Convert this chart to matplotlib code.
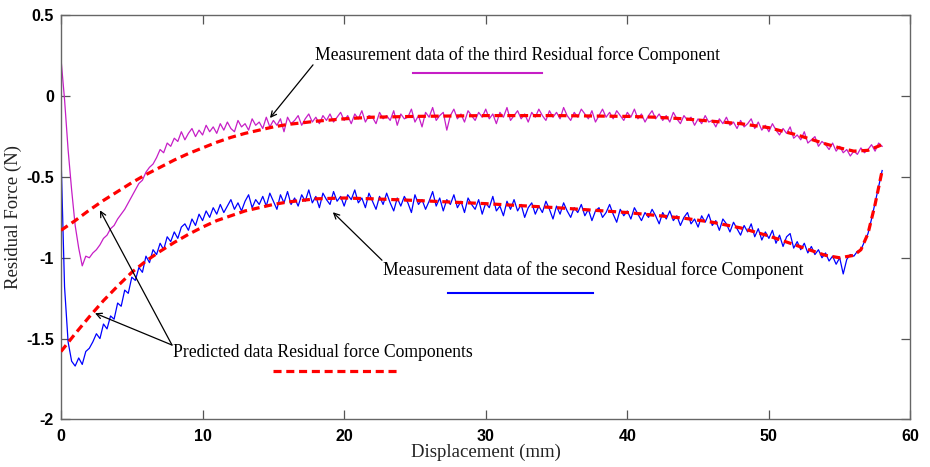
import numpy as np
import matplotlib
matplotlib.use("Agg")
import matplotlib.pyplot as plt
from matplotlib import font_manager

plt.rcParams['axes.unicode_minus'] = False
plt.rcParams['lines.scale_dashes'] = False

# ---------------- data ----------------
disp_start = 0.0
disp_step = 0.25

third_meas = [
    0.23, -0.02, -0.33, -0.58,
    -0.80, -0.94, -1.05, -0.99,
    -1.00, -0.97, -0.95, -0.92,
    -0.88, -0.86, -0.82, -0.80,
    -0.76, -0.73, -0.70, -0.66,
    -0.62, -0.58, -0.54, -0.52,
    -0.47, -0.44, -0.42, -0.38,
    -0.33, -0.35, -0.29, -0.31,
    -0.26, -0.28, -0.22, -0.27,
    -0.23, -0.20, -0.25, -0.21,
    -0.24, -0.18, -0.22, -0.19,
    -0.23, -0.17, -0.21, -0.16,
    -0.20, -0.22, -0.15, -0.19,
    -0.17, -0.21, -0.14, -0.18,
    -0.16, -0.20, -0.13, -0.19,
    -0.15, -0.18, -0.14, -0.22,
    -0.13, -0.17, -0.15, -0.12,
    -0.18, -0.14, -0.11, -0.16,
    -0.13, -0.17, -0.12, -0.15,
    -0.11, -0.16, -0.13, -0.10,
    -0.15, -0.12, -0.17, -0.11,
    -0.14, -0.09, -0.16, -0.12,
    -0.13, -0.17, -0.10, -0.14,
    -0.12, -0.15, -0.09, -0.18,
    -0.11, -0.14, -0.13, -0.08,
    -0.16, -0.12, -0.19, -0.10,
    -0.13, -0.07, -0.15, -0.12,
    -0.10, -0.21, -0.12, -0.08,
    -0.14, -0.11, -0.16, -0.09,
    -0.12, -0.15, -0.10, -0.13,
    -0.08, -0.14, -0.11, -0.17,
    -0.10, -0.13, -0.07, -0.15,
    -0.12, -0.09, -0.14, -0.11,
    -0.16, -0.10, -0.13, -0.08,
    -0.12, -0.15, -0.09, -0.13,
    -0.10, -0.14, -0.07, -0.12,
    -0.15, -0.10, -0.13, -0.08,
    -0.11, -0.14, -0.09, -0.16,
    -0.12, -0.08, -0.13, -0.10,
    -0.14, -0.09, -0.12, -0.15,
    -0.10, -0.13, -0.08, -0.14,
    -0.11, -0.16, -0.12, -0.09,
    -0.14, -0.11, -0.15, -0.12,
    -0.16, -0.10, -0.14, -0.17,
    -0.12, -0.15, -0.13, -0.18,
    -0.14, -0.17, -0.12, -0.16,
    -0.15, -0.19, -0.14, -0.17,
    -0.13, -0.18, -0.16, -0.20,
    -0.15, -0.19, -0.17, -0.14,
    -0.20, -0.16, -0.21, -0.18,
    -0.22, -0.17, -0.21, -0.24,
    -0.20, -0.23, -0.19, -0.26,
    -0.24, -0.27, -0.22, -0.29,
    -0.27, -0.25, -0.31, -0.28,
    -0.30, -0.33, -0.29, -0.34,
    -0.31, -0.35, -0.33, -0.37,
    -0.34, -0.36, -0.32, -0.35,
    -0.33, -0.30, -0.34, -0.29,
    -0.31,
]

second_meas = [
    -0.37, -1.18, -1.52, -1.64,
    -1.67, -1.62, -1.66, -1.58,
    -1.56, -1.52, -1.47, -1.50,
    -1.41, -1.44, -1.36, -1.38,
    -1.28, -1.30, -1.20, -1.22,
    -1.12, -1.14, -1.06, -1.09,
    -0.99, -1.03, -0.95, -0.98,
    -0.91, -0.95, -0.87, -0.90,
    -0.84, -0.88, -0.81, -0.79,
    -0.83, -0.76, -0.80, -0.73,
    -0.77, -0.71, -0.75, -0.69,
    -0.73, -0.67, -0.72, -0.68,
    -0.64, -0.70, -0.66, -0.71,
    -0.65, -0.61, -0.69, -0.64,
    -0.67, -0.62, -0.68, -0.60,
    -0.65, -0.70, -0.61, -0.66,
    -0.59, -0.67, -0.63, -0.68,
    -0.61, -0.65, -0.58, -0.66,
    -0.62, -0.69, -0.60, -0.64,
    -0.67, -0.59, -0.65, -0.62,
    -0.68, -0.61, -0.64, -0.58,
    -0.66, -0.63, -0.69, -0.60,
    -0.65, -0.70, -0.62, -0.67,
    -0.60, -0.66, -0.71, -0.63,
    -0.68, -0.62, -0.66, -0.72,
    -0.61, -0.67, -0.64, -0.70,
    -0.65, -0.59, -0.68, -0.63,
    -0.71, -0.64, -0.67, -0.61,
    -0.69, -0.65, -0.72, -0.63,
    -0.67, -0.70, -0.64, -0.73,
    -0.66, -0.69, -0.62, -0.71,
    -0.68, -0.74, -0.65, -0.70,
    -0.64, -0.71, -0.67, -0.75,
    -0.69, -0.66, -0.73, -0.68,
    -0.72, -0.65, -0.70, -0.76,
    -0.68, -0.73, -0.66, -0.71,
    -0.75, -0.69, -0.72, -0.67,
    -0.74, -0.70, -0.77, -0.71,
    -0.69, -0.75, -0.72, -0.67,
    -0.73, -0.78, -0.70, -0.74,
    -0.71, -0.76, -0.69, -0.73,
    -0.77, -0.72, -0.75, -0.70,
    -0.74, -0.79, -0.72, -0.76,
    -0.71, -0.77, -0.74, -0.80,
    -0.75, -0.72, -0.79, -0.76,
    -0.81, -0.74, -0.78, -0.73,
    -0.80, -0.77, -0.83, -0.76,
    -0.79, -0.84, -0.78, -0.82,
    -0.86, -0.80, -0.84, -0.79,
    -0.87, -0.82, -0.89, -0.84,
    -0.88, -0.83, -0.91, -0.86,
    -0.93, -0.87, -0.85, -0.94,
    -0.90, -0.95, -0.91, -0.97,
    -0.93, -0.98, -0.95, -1.00,
    -0.97, -1.02, -0.99, -1.04,
    -1.00, -1.10, -1.01, -0.98,
    -0.99, -0.96, -0.95, -0.90,
    -0.85, -0.76, -0.66, -0.56,
    -0.46,
]

third_pred_x = [0, 1, 2, 3, 4, 5, 6, 7, 8, 9, 10, 11, 12, 13, 14, 15, 16, 18, 20, 22,
                25, 30, 35, 40, 42, 44, 46, 48, 50, 52, 54, 55, 56, 57, 58]
third_pred_y = [-0.83, -0.77, -0.705, -0.645, -0.59, -0.535, -0.485, -0.44, -0.395, -0.355,
                -0.32, -0.285, -0.255, -0.23, -0.21, -0.19, -0.175, -0.155, -0.14, -0.13,
                -0.125, -0.12, -0.12, -0.125, -0.13, -0.14, -0.155, -0.17, -0.195, -0.24,
                -0.295, -0.32, -0.34, -0.335, -0.30]

second_pred_x = [0, 1, 2, 3, 4, 5, 6, 7, 8, 9, 10, 11, 12, 13, 14, 15, 16, 18, 20, 22,
                 25, 30, 35, 40, 44, 46, 48, 50, 52, 53, 54, 55, 56, 56.5, 57, 57.5, 58]
second_pred_y = [-1.58, -1.47, -1.365, -1.265, -1.175, -1.09, -1.02, -0.96, -0.905, -0.855,
                 -0.81, -0.77, -0.74, -0.71, -0.69, -0.67, -0.655, -0.635, -0.63, -0.635,
                 -0.645, -0.665, -0.69, -0.72, -0.755, -0.78, -0.815, -0.865, -0.925, -0.955,
                 -0.985, -1.0, -0.985, -0.95, -0.85, -0.67, -0.46]

x_ticks = [0, 10, 20, 30, 40, 50, 60]
y_ticks = [-2, -1.5, -1, -0.5, 0, 0.5]
y_tick_labels = ['-2', '-1.5', '-1', '-0.5', '0', '0.5']

label_third = 'Measurement data of the third Residual force Component'
label_second = 'Measurement data of the second Residual force Component'
label_pred = 'Predicted data Residual force Components'

# ---------------- figure ----------------
fig = plt.figure(figsize=(9.3, 4.67), dpi=100)
ax = fig.add_axes([0.0656, 0.102, 0.9134, 0.865])

disp3 = disp_start + disp_step * np.arange(len(third_meas))
disp2 = disp_start + disp_step * np.arange(len(second_meas))

MAG = '#c61ec6'
BLU = '#0000ff'
RED = '#ff0000'
DASH = (0, (5.8, 3.4))

ax.plot(disp3, third_meas, color=MAG, lw=0.9, zorder=2)
ax.plot(disp2, second_meas, color=BLU, lw=0.9, zorder=2)
ax.plot(third_pred_x, third_pred_y, color=RED, lw=2.3, linestyle=DASH, zorder=3)
ax.plot(second_pred_x, second_pred_y, color=RED, lw=2.3, linestyle=DASH, zorder=3)

ax.set_xlim(0, 60)
ax.set_ylim(-2, 0.5)
ax.set_xticks(x_ticks)
ax.set_xticklabels([str(t) for t in x_ticks])
ax.set_yticks(y_ticks)
ax.set_yticklabels(y_tick_labels)

installed = {f.name for f in font_manager.fontManager.ttflist}
if 'Liberation Sans Narrow' in installed:
    tick_family, tick_size = 'Liberation Sans Narrow', 13
else:
    tick_family, tick_size = 'Liberation Sans', 11.5

for lab in ax.get_xticklabels() + ax.get_yticklabels():
    lab.set_fontfamily(tick_family)
    lab.set_fontweight('bold')
    lab.set_fontsize(tick_size)

ax.tick_params(axis='x', direction='in', length=6.5, width=0.9, color='#555555',
               top=True, pad=7)
ax.tick_params(axis='y', direction='in', length=6.5, width=0.9, color='#555555',
               right=True, pad=5)
for s in ax.spines.values():
    s.set_color('#666666')
    s.set_linewidth(1.0)

serif = 'Liberation Serif'
ax.set_xlabel('Displacement (mm)', fontfamily=serif, fontsize=13.5, color='#222222', labelpad=0)
ax.set_ylabel('Residual Force (N)', fontfamily=serif, fontsize=13.5, color='#222222', labelpad=3)

arrow = dict(arrowstyle='->', color='black', lw=0.9, shrinkA=0, shrinkB=0, mutation_scale=10)

# third component annotation
ax.text(17.94, 0.255, label_third, fontfamily=serif, fontsize=12.7, ha='left', va='center')
ax.annotate('', xy=(14.76, -0.135), xytext=(17.8, 0.194), arrowprops=arrow)
ax.plot([24.86, 33.97], [0.144, 0.144], color=MAG, lw=1.5)

# second component annotation
ax.text(22.74, -1.077, label_second, fontfamily=serif, fontsize=12.7, ha='left', va='center')
ax.annotate('', xy=(19.2, -0.718), xytext=(22.67, -1.015), arrowprops=arrow)
ax.plot([27.33, 37.57], [-1.219, -1.219], color=BLU, lw=1.5)

# predicted annotation
ax.text(7.91, -1.583, label_pred, fontfamily=serif, fontsize=12.7, ha='left', va='center')
ax.annotate('', xy=(2.75, -0.706), xytext=(7.84, -1.54), arrowprops=arrow)
ax.annotate('', xy=(2.4, -1.343), xytext=(7.84, -1.54), arrowprops=arrow)
ax.plot([14.97, 23.94], [-1.703, -1.703], color=RED, lw=2.3, linestyle=DASH)

fig.savefig('out.png', dpi=100)
